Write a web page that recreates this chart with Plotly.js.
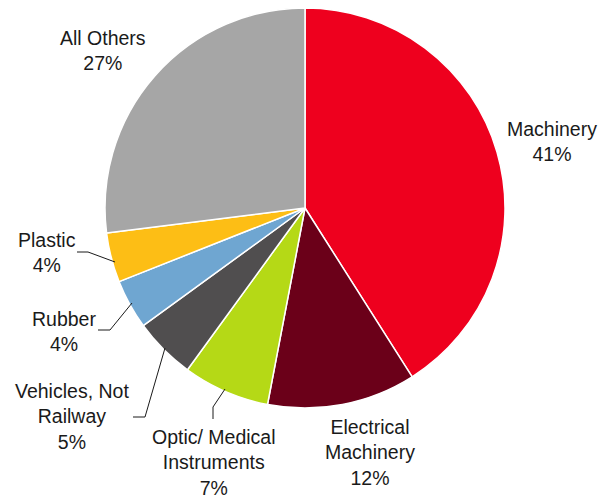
<!DOCTYPE html>
<html>
<head>
<meta charset="utf-8">
<script src="https://cdn.plot.ly/plotly-3.0.1.min.js"></script>
<style>html,body{margin:0;padding:0;background:#fff;}#chart{width:611px;height:500px;}</style>
</head>
<body>
<div id="chart"></div>
<script>
// Data
const categories = ["Machinery", "Electrical Machinery", "Optic/ Medical Instruments", "Vehicles, Not Railway", "Rubber", "Plastic", "All Others"];
const shares = [41, 12, 7, 5, 4, 4, 27];
const labelTexts = ["Machinery", "Electrical<br>Machinery", "Optic/ Medical<br>Instruments", "Vehicles, Not<br>Railway", "Rubber", "Plastic", "All Others"];
const colors = ["#EE001E", "#6B0019", "#B5D916", "#504E4F", "#6FA6D1", "#FDBE15", "#A6A6A6"];

// Styling / layout positions (pixels in 611x500 canvas)
const W = 611, H = 500;
const px = x => x / W;
const py = y => 1 - y / H;
const labelPos = [[552, 141.5], [370, 452.5], [214, 462.5], [72, 416], [64, 331.5], [47, 252.5], [103, 50.5]];
const leaders = [
  null, null,
  [[213, 419], [213, 407], [225, 389]],
  [[133, 417], [145, 417], [165, 348]],
  [[98, 330], [110, 330], [132, 303]],
  [[77, 252], [88, 252], [115, 262]],
  null
];

const font = {family: "Liberation Sans, Arial, sans-serif", size: 19.5, color: "#1a1a1a"};

const annotations = categories.map((c, i) => ({
  text: labelTexts[i] + "<br>" + shares[i] + "%",
  x: px(labelPos[i][0]), y: py(labelPos[i][1]),
  xref: "paper", yref: "paper", xanchor: "center", yanchor: "middle",
  showarrow: false, align: "center", font: font
}));

const shapes = leaders.filter(l => l).map(l => ({
  type: "path", xref: "paper", yref: "paper",
  path: l.map((p, k) => (k ? "L" : "M") + px(p[0]) + "," + py(p[1])).join(" "),
  line: {color: "#1a1a1a", width: 1}
}));

const cx = 305, cy = 208, r = 200;
Plotly.newPlot("chart", [{
  type: "pie",
  labels: categories,
  values: shares,
  sort: false,
  direction: "clockwise",
  rotation: 0,
  textinfo: "none",
  hoverinfo: "label+percent",
  marker: {colors: colors, line: {color: "#ffffff", width: 1.5}},
  domain: {x: [px(cx - r), px(cx + r)], y: [py(cy + r), py(cy - r)]},
  showlegend: false
}], {
  width: W, height: H,
  margin: {l: 0, r: 0, t: 0, b: 0},
  paper_bgcolor: "#ffffff",
  showlegend: false,
  annotations: annotations,
  shapes: shapes
}, {displayModeBar: false, staticPlot: true});
</script>
</body>
</html>
